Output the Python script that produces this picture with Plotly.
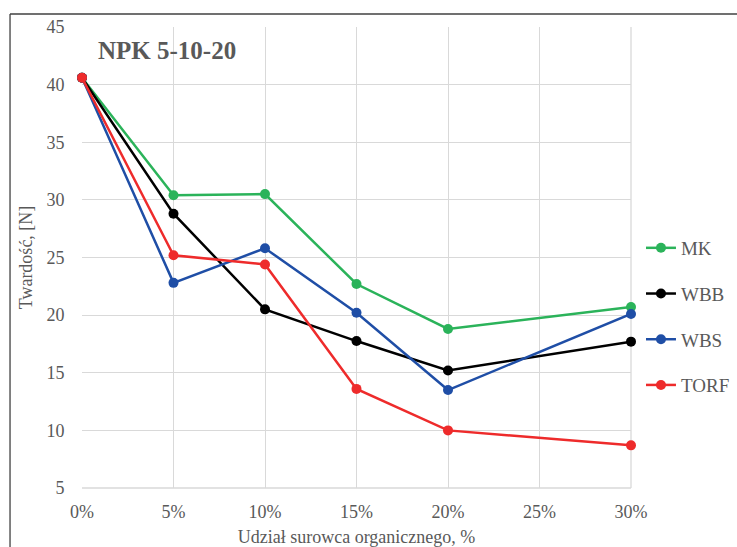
import plotly.graph_objects as go

# Share of organic raw material (%) and tablet hardness (N) for NPK 5-10-20
udzial = [0, 5, 10, 15, 20, 30]
mk = [40.6, 30.4, 30.5, 22.7, 18.8, 20.7]
wbb = [40.6, 28.8, 20.5, 17.75, 15.2, 17.7]
wbs = [40.6, 22.8, 25.8, 20.2, 13.5, 20.1]
torf = [40.6, 25.2, 24.4, 13.6, 10.0, 8.7]

x_ticks = [0, 5, 10, 15, 20, 25, 30]
x_tick_labels = ["0%", "5%", "10%", "15%", "20%", "25%", "30%"]

series = [
    ("MK", mk, "#2bb35a"),
    ("WBB", wbb, "#000000"),
    ("WBS", wbs, "#1f4ea6"),
    ("TORF", torf, "#ee2b2b"),
]

txt = "#595959"
serif = "Liberation Serif"

fig = go.Figure()
for i, (name, vals, color) in enumerate(series):
    fig.add_trace(go.Scatter(
        x=udzial, y=vals, name=name, mode="lines+markers",
        line=dict(color=color, width=2.5),
        marker=dict(color=color, size=10),
        legendgroup=f"g{i}",
        cliponaxis=False,
    ))

fig.update_layout(
    width=737, height=547,
    margin=dict(l=82, r=106, t=27, b=59),
    paper_bgcolor="white", plot_bgcolor="white",
    font=dict(family=serif, color=txt, size=18),
    showlegend=True,
    legend=dict(
        xref="container", yref="container",
        x=0.8697, y=0.5814, xanchor="left", yanchor="top",
        font=dict(size=19, color=txt, family=serif),
        tracegroupgap=18, traceorder="grouped",
        bgcolor="rgba(0,0,0,0)",
    ),
    xaxis=dict(
        range=[0, 30], tickvals=x_ticks, ticktext=x_tick_labels,
        showgrid=True, gridcolor="#d9d9d9", gridwidth=1.3,
        zeroline=False, showline=False, automargin=False,
        ticks="outside", ticklen=7, tickcolor="rgba(0,0,0,0)",
        tickfont=dict(size=18, color=txt, family=serif),
        title=dict(text="Udział surowca organicznego, %", font=dict(size=18, color=txt, family=serif), standoff=13),
    ),
    yaxis=dict(
        range=[5, 45], tickvals=[5, 10, 15, 20, 25, 30, 35, 40, 45],
        showgrid=True, gridcolor="#d9d9d9", gridwidth=1.3,
        zeroline=False, showline=False, automargin=False,
        ticks="outside", ticklen=13, tickcolor="rgba(0,0,0,0)",
        tickfont=dict(size=18, color=txt, family=serif),
        title=dict(text="Twardość, [N]", font=dict(size=18, color=txt, family=serif), standoff=9),
    ),
    shapes=[
        # outer chart frame (left and top edges)
        dict(type="line", xref="paper", yref="paper", x0=-0.1311, x1=-0.1311, y0=1.0282, y1=-0.2,
             line=dict(color="#404040", width=1.3)),
        dict(type="line", xref="paper", yref="paper", x0=-0.1311, x1=1.3, y0=1.0282, y1=1.0282,
             line=dict(color="#404040", width=1.3)),
        # plot area right and bottom borders
        dict(type="line", xref="paper", yref="paper", x0=1, x1=1, y0=0, y1=1,
             line=dict(color="#d9d9d9", width=1.3), layer="below"),
        dict(type="line", xref="paper", yref="paper", x0=0, x1=1, y0=0, y1=0,
             line=dict(color="#d9d9d9", width=1.3), layer="below"),
    ],
    annotations=[
        dict(text="<b>NPK 5-10-20</b>", xref="paper", yref="paper", x=0.026, y=0.948,
             xanchor="left", yanchor="middle", showarrow=False,
             font=dict(size=25, color=txt, family=serif)),
    ],
)

fig.write_html("out.html")
